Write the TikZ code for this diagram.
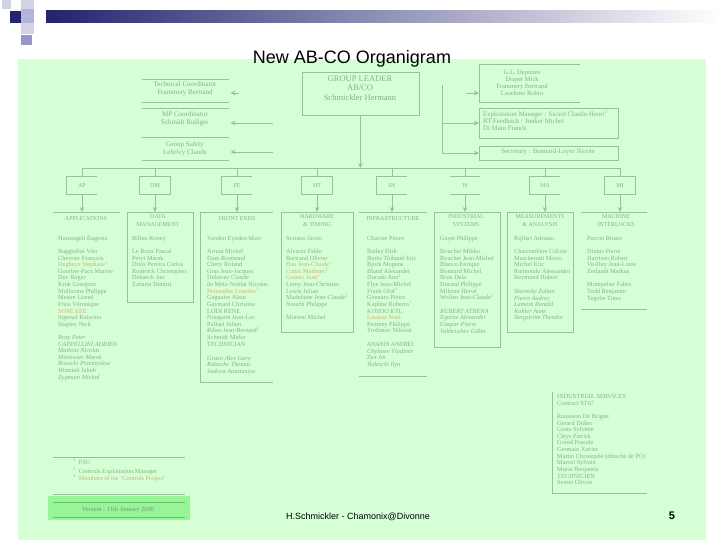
\documentclass[tikz,border=0pt]{standalone}
\usepackage{fontspec}
\setmainfont{Liberation Serif}
\newfontfamily\arialf{Liberation Sans}
\usetikzlibrary{arrows.meta}
\definecolor{bggreen}{RGB}{213,255,213}
\definecolor{lnc}{RGB}{150,195,150}
\definecolor{txc}{RGB}{138,175,138}
\definecolor{tanc}{RGB}{210,175,120}
\definecolor{navyc}{RGB}{35,35,110}
\definecolor{vgreen}{RGB}{150,245,150}
\definecolor{vline}{RGB}{110,190,110}
\definecolor{lavA}{RGB}{210,210,232}
\definecolor{lavB}{RGB}{180,180,218}
\definecolor{lavC}{RGB}{150,150,200}
\newcommand{\namelist}[5]{\foreach \t [count=\i from 0] in {#5} {\node[nm,#2] (#1-\i) at (#3,{#4+6.62*\i}) {\t};}}
\begin{document}
\begin{tikzpicture}[x=1pt,y=-1pt,
 ln/.style={draw=lnc,line width=0.7pt},
 arr/.style={ln,-{Stealth[length=5pt,width=4.5pt]}},
 area/.style={inner sep=0pt,outer sep=0pt,anchor=north west},
 nm/.style={font=\fontsize{6.3}{6.6}\selectfont,text=txc,inner sep=0pt,anchor=west,text height=4.3pt,text depth=1.3pt},
 itl/.style={font=\fontsize{6.3}{6.6}\selectfont\itshape},
 hd/.style={font=\fontsize{6}{8}\selectfont,text=txc,inner sep=0pt,align=center},
 hdrseven/.style={font=\fontsize{7}{8}\selectfont,text=txc,inner sep=0pt,align=center},
 divbox/.style={font=\fontsize{6}{7}\selectfont,text=txc,inner sep=0pt,minimum width=30pt,minimum height=17pt},
]
\useasboundingbox (0,0) rectangle (720,540);
\fill[white] (0,0) rectangle (720,540);
% header decoration
\shade[left color=navyc,right color=white] (46,11) rectangle (720,23);
\fill[lavA] (2,0) rectangle (11,9);
\fill[lavA] (21,0) rectangle (34,9);
\fill[navyc] (10,11) rectangle (21,23);
\fill[lavB] (21,9) rectangle (34,23);
\fill[lavA] (21,23) rectangle (34,34);
\fill[lavC] (21,35) rectangle (32,45);
% green background
\fill[bggreen] (18,59) rectangle (706,540);

\node[font=\arialf\fontsize{18}{20}\selectfont] (title) at (352,59) {New AB-CO Organigram};

% group leader
\node[area,ln,minimum width=117pt,minimum height=43pt] (gl) at (302,72) {};
\node[font=\fontsize{8.5}{9.5}\selectfont,text=txc,inner sep=0pt,align=center] (glt) at (360,88) {GROUP LEADER\\AB/CO\\Schmickler Hermann};

% left staff boxes
\node[area,minimum width=87pt,minimum height=23pt] (tcb) at (142,79) {};
\node[area,minimum width=87pt,minimum height=29pt] (mpb) at (142,108) {};
\node[area,minimum width=87pt,minimum height=23pt] (gsb) at (142,137) {};
\foreach \b in {tcb,mpb,gsb} {\draw[ln] (\b.north west) -- (\b.north east) (\b.south west) -- (\b.south east);}
\node[hdrseven] (tct) at (185,89) {Technical Coordinator\\Frammery Bertrand};
\node[hdrseven] (mpt) at (185,118.5) {MP Coordinator\\Schmidt Rudiger};
\node[hdrseven] (gst) at (185,148.5) {Group Safety\\Lebrivy Claude};
\coordinate (la1) at (239,93);
\coordinate (la2) at (273,123);
\coordinate (la3) at (273,152);
\draw[arr,shorten >=1.5pt] (la1) -- (la1 -| tcb.east);
\draw[arr,shorten >=1.5pt] (la2) -- (la2 -| mpb.east);
\draw[arr,shorten >=1.5pt] (la3) -- (la3 -| gsb.east);

% right staff boxes
\node[area,minimum width=101pt,minimum height=38pt] (depb) at (479,64) {};
\draw[ln] (depb.north east) -- (depb.north west) -- (depb.south west) -- (depb.south east);
\node[font=\fontsize{6.5}{7}\selectfont,text=txc,inner sep=0pt,align=center] (dept) at (522,82.5) {G.L. Deputies\\Draper Mick\\Frammery Bertrand\\Lauckner Robin};
\node[area,ln,minimum width=139pt,minimum height=30pt] (expb) at (479,108) {};
\node[font=\fontsize{6.8}{7}\selectfont,text=txc,inner sep=0pt,align=left,anchor=west] (expt) at (483,120) {Exploitation Manager : Sicard Claude-Henri\textsuperscript{2}\\RT-Feedback : Jonker Michel\\Di Maio Franck};
\node[area,ln,minimum width=139pt,minimum height=14pt] (secb) at (479,146) {};
\node[font=\fontsize{6.8}{7}\selectfont,text=txc,inner sep=0pt] (sect) at (548,152) {Secretary : Bonnard-Loyer Nicole};
\coordinate (rv1) at (442,85);
\coordinate (rv2) at (442,123);
\coordinate (rv3) at (442,153);
\coordinate (ra1) at (466,93);
\draw[ln] (rv1) -- (rv3);
\draw[arr] (ra1) -- (ra1 -| depb.west);
\draw[arr] (rv2) -- (rv2 -| expb.west);
\draw[arr] (rv3) -- (rv3 -| secb.west);

% sections
\node[divbox] (dap) at (82,185.5) {AP};
\node[divbox] (ddm) at (155,185.5) {DM};
\node[divbox] (dfe) at (237,185.5) {FE};
\node[divbox] (dht) at (317,185.5) {HT};
\node[divbox] (din) at (392,185.5) {IN};
\node[divbox] (dis) at (465,185.5) {IS};
\node[divbox] (dma) at (545,185.5) {MA};
\node[divbox] (dmi) at (620,185.5) {MI};
\foreach \d in {ddm,dht,dmi} {\draw[ln] (\d.south west) rectangle (\d.north east);}
\foreach \d in {dap,dfe,din,dma} {\draw[ln] (\d.north east) -- (\d.north west) -- (\d.south west) -- (\d.south east);}
\draw[ln] (dis.north west) -- (dis.north east) (dis.south west) -- (dis.south east);
\coordinate (hl) at (82,168);
\coordinate (hr) at (620,168);
\draw[ln] (hl) -- (hr);
\draw[arr] (gl.south) -- (gl.south |- hl);
\foreach \d in {dap,ddm,dfe,dht,din,dis,dma,dmi} {\draw[ln] (\d.north |- hl) -- (\d.north);}

% column frames
\node[area,minimum width=67pt,minimum height=245pt] (apc) at (53,212) {};
\node[area,minimum width=66pt,minimum height=90pt] (dmc) at (127,212) {};
\node[area,minimum width=73pt,minimum height=170pt] (fec) at (200,212) {};
\node[area,minimum width=72pt,minimum height=120pt] (htc) at (281,212) {};
\node[area,minimum width=68pt,minimum height=164pt] (inc) at (359,212) {};
\node[area,minimum width=66pt,minimum height=135pt] (isc) at (434,212) {};
\node[area,minimum width=66pt,minimum height=120pt] (mac) at (507,212) {};
\node[area,minimum width=66pt,minimum height=97pt] (mic) at (581,212) {};
\node[area,minimum width=95pt,minimum height=101pt] (indc) at (552,392) {};
\draw[ln] (apc.north west) -- (apc.north east);
\foreach \c in {dmc,htc,isc,mac} {\draw[ln] (\c.south west) rectangle (\c.north east);}
\draw[ln] (fec.north east) -- (fec.north west) -- (fec.south west) -- (fec.south east);
\foreach \c in {inc,mic} {\draw[ln] (\c.north west) -- (\c.north east) (\c.south west) -- (\c.south east);}
\draw[ln] (indc.north west) -- (indc.south west) -- (indc.south east);

\draw[arr] (dap.south) -- (dap.south |- apc.north);
\draw[arr] (ddm.south) -- (ddm.south |- dmc.north);
\draw[arr] (dfe.south) -- (dfe.south |- fec.north);
\draw[arr] (dht.south) -- (dht.south |- htc.north);
\draw[arr] (din.south) -- (din.south |- inc.north);
\draw[arr] (dis.south) -- (dis.south |- isc.north);
\draw[arr] (dma.south) -- (dma.south |- mac.north);
\draw[arr] (dmi.south) -- (dmi.south |- mic.north);

% column titles
\node[hd] (apt) at (86,219) {APPLICATIONS};
\node[hd] (dmt) at (158,221) {DATA\\MANAGEMENT};
\node[hd] (fet) at (237,219) {FRONT ENDS};
\node[hd] (htt) at (317,221) {HARDWARE\\\& TIMING};
\node[hd] (inft) at (393,219) {INFRASTRUCTURE};
\node[hd] (ist) at (466,221) {INDUSTRIAL\\SYSTEMS};
\node[hd] (mat) at (540,221) {MEASUREMENTS\\\& ANALYSIS};
\node[hd] (mit) at (616,221) {MACHINE\\INTERLOCKS};

% name lists
\namelist{apl}{}{58}{239}{Hatzangeli Eugenia}
\namelist{apa}{}{58}{252}{Baggiolini Vito,Chevrier François,{\color{tanc}Deghaye Stephane\textsuperscript{1}},Gourber-Pace Marine,Duc Roger,Kruk Grzegorz,Mollicone Philippe,Mestre Lionel,Frais Véronique,{\color{tanc}SOSE EEE},Sigerud Katarina,Stapley Nick}
\namelist{apb}{itl}{58}{338}{Bray Peter,CAPPELLINI ADRIEN,Mathias Nicolas,Misiowiec Marek,Rowicki Przemyslaw,Wozniak Jakub,Zygmunt Michal}

\namelist{dml}{}{132}{239}{Billen Ronny}
\namelist{dma}{}{132}{252}{Le Roux Pascal,Peryt Marek,Dinis Pereira Carlos,Roderick Christopher,Dehaeck Jan,Zaharia Dimitri}

\namelist{fel}{}{207}{239}{Vanden Eynden Marc}
\namelist{fea}{}{207}{252}{Arruat Michel,Dam Raymond,Chery Roland,Gras Jean-Jacques,Dehavay Claude,de Metz-Noblat Nicolas,{\color{tanc}Fernandez Leandro\textsuperscript{1}},Gagnaire Alain,Gaymard Christine,LODI RENE,Nougaret Jean-Luc,Palluel Julien,Ribes Jean-Bernard\textsuperscript{1},Schmidt Mirko,TECHNICIAN}
\namelist{feb}{itl}{207}{358.6}{Gruen Alex Gary,Rabache Thomas,Sadova Anastasiya}

\namelist{htl}{}{286}{239}{Serrano Javier}
\namelist{hta}{}{286}{252}{Alvarez Pablo,Bertrand Olivier,{\color{tanc}Bau Jean-Claude\textsuperscript{1}},{\color{tanc}Cattin Matthieu\textsuperscript{1}},{\color{tanc}Gomez Juan\textsuperscript{1}},Leroy Jean-Christian,Lewis Julian,Madelaine Jean-Claude\textsuperscript{1},Nouchi Philippe}
\namelist{htb}{}{286}{318.4}{Moreno Michel}

\namelist{inl}{}{367}{239}{Charrue Pierre}
\namelist{ina}{}{367}{252}{Bailey Dirk,Butin-Thibault Eric,Bjork Mogens,Bland Alexander,Dorado Ana\textsuperscript{1},Flye Jean-Michel,Frank Olof\textsuperscript{1},Gennaro Pietro,Kapline Roberto\textsuperscript{1},KOSOO KTL,{\color{tanc}Lacasse Noel},Pentney Philippe,Trofimov Nikolai}
\namelist{inb}{itl}{367}{345}{ANANIN ANDREI,Chyliaev Vladimir,Zyn Joi,Tedeschi Ilya}

\namelist{isl}{}{440}{239}{Gayet Philippe}
\namelist{isa}{}{440}{252}{Boucher Mikko,Bouchet Jean-Michel,Blanco Enrique,Bonnard Michel,Brun Dela,Durand Philippe,Milcent Hervé,Wollen Jean-Claude\textsuperscript{1}}
\namelist{isb}{itl}{440}{311.8}{RUBERT ATHENA,Egorov Alexander,Gaspar Pierre,Vakhrushev Gilles}

\namelist{mal}{}{514}{239}{Rijllart Adriaan}
\namelist{maa}{}{514}{252}{Charrondière Calixte,Marchesotti Marco,Michel Eric,Raimondo Alessandro,Reymond Hubert}
\namelist{mab}{itl}{514}{292}{Skorecky Zoltan,Pierre Audrey,Lamont Ronald,Kohler Anne,Bergström Theodor}

\namelist{mil}{}{587}{239}{Puccio Bruno}
\namelist{mia}{}{587}{252}{Dinius Pierre,Harrison Robert,Vo-Duy Jean-Louis,Zerlauth Markus}
\namelist{mib}{}{587}{285.4}{Mompelier Fabio,Todd Benjamin,Tegelie Timo}

\namelist{isvl}{}{557}{397}{INDUSTRIAL SERVICES,Contract ST67}
\namelist{isva}{}{557}{417}{Rousseau De Brigue,Gerard Didier,Coste Sylvette,Cleys Patrick,Grand Pascale,Germain Xavier,Martin Christophe (détaché de PO),Marcel Sylvain,Murat Benjamin,TECHNICIEN,Sereni Olivier}

% legend
\node[area,minimum width=132pt,minimum height=37pt] (lgb) at (53,457) {};
\draw[ln] (lgb.north west) -- (lgb.north east) (lgb.south west) -- (lgb.south east);
\node[nm] (lg1) at (73,463) {\textsuperscript{1}\hspace{3pt}FSU};
\node[nm] (lg2) at (73,472) {\textsuperscript{2}\hspace{3pt}Controls Exploitation Manager};
\node[nm] (lg3) at (73,479) {\textsuperscript{3}\hspace{3pt}{\color{tanc}Members of the `Controls Project'}};

% version
\node[area,fill=vgreen,minimum width=142pt,minimum height=24pt] (verb) at (48,496) {};
\coordinate (vl1) at (53,502);
\coordinate (vr1) at (185,502);
\coordinate (vl2) at (53,517);
\coordinate (vr2) at (185,517);
\draw[draw=vline,line width=0.7pt] (vl1) -- (vr1) (vl2) -- (vr2);
\node[font=\fontsize{6.4}{7}\selectfont,text=txc!85!black,inner sep=0pt] (vert) at (118,510) {Version : 11th January 2006};

% footer
\node[font=\arialf\fontsize{9}{10}\selectfont,inner sep=0pt] (foot) at (358,517) {H.Schmickler - Chamonix@Divonne};
\node[font=\arialf\bfseries\fontsize{11}{12}\selectfont,inner sep=0pt] (pg) at (672,516) {5};
\end{tikzpicture}
\end{document}
